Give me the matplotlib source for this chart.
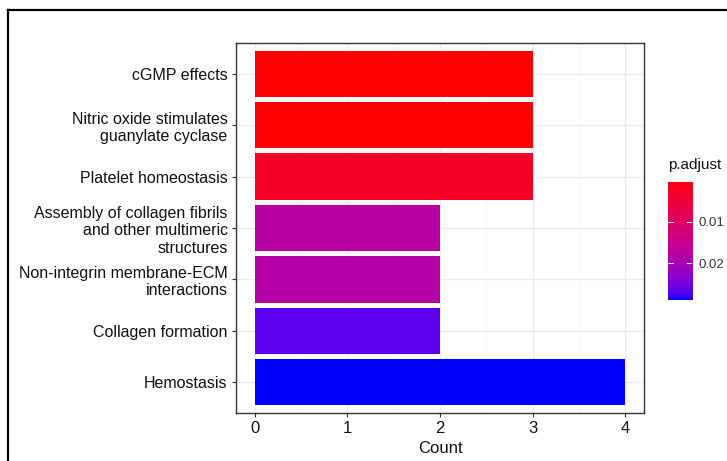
import numpy as np
import matplotlib
matplotlib.use("Agg")
import matplotlib.pyplot as plt
from matplotlib.colors import ListedColormap, to_rgb
from matplotlib.lines import Line2D

plt.rcParams['font.family'] = ['Liberation Sans', 'DejaVu Sans']

pathways = ['cGMP effects',
            'Nitric oxide stimulates\nguanylate cyclase',
            'Platelet homeostasis',
            'Assembly of collagen fibrils\nand other multimeric\nstructures',
            'Non-integrin membrane-ECM\ninteractions',
            'Collagen formation',
            'Hemostasis']
counts = [3, 3, 3, 2, 2, 2, 4]
p_adjust = [0.00040, 0.00045, 0.0030, 0.0180, 0.0182, 0.0265, 0.0288]
x_ticks = [0, 1, 2, 3, 4]
cbar_ticks = [0.01, 0.02]


# ggplot style red -> blue gradient, interpolated in Lab space
M = np.array([[0.4124, 0.3576, 0.1805],
              [0.2126, 0.7152, 0.0722],
              [0.0193, 0.1192, 0.9505]])
white = M.sum(axis=1)

def to_lab(rgb):
    c = np.array(rgb)
    c = np.where(c <= 0.04045, c / 12.92, ((c + 0.055) / 1.055) ** 2.4)
    xyz = M @ c / white
    f = np.where(xyz > 0.008856, np.cbrt(xyz), 7.787 * xyz + 16 / 116)
    return np.array([116 * f[1] - 16, 500 * (f[0] - f[1]), 200 * (f[1] - f[2])])

def from_lab(lab):
    fy = (lab[0] + 16) / 116
    f = np.array([fy + lab[1] / 500, fy, fy - lab[2] / 200])
    xyz = np.where(f ** 3 > 0.008856, f ** 3, (f - 16 / 116) / 7.787) * white
    c = np.linalg.solve(M, xyz)
    c = np.where(c <= 0.0031308, 12.92 * c, 1.055 * np.clip(c, 0, None) ** (1 / 2.4) - 0.055)
    return np.clip(c, 0, 1)

lab_lo, lab_hi = to_lab(to_rgb('red')), to_lab(to_rgb('blue'))
cmap = ListedColormap([from_lab(lab_lo + t * (lab_hi - lab_lo)) for t in np.linspace(0, 1, 256)])
vmin, vmax = min(p_adjust), max(p_adjust)
norm = plt.Normalize(vmin, vmax)

fig = plt.figure(figsize=(7.27, 4.61), dpi=100)
ax = fig.add_axes([236 / 727, 1 - 413 / 461, 408 / 727, 370 / 461])

ypos = np.arange(len(pathways))[::-1] + 1
ax.barh(ypos, counts, height=0.9, color=cmap(norm(p_adjust)), zorder=3)

ax.set_xlim(-0.2, 4.2)
ax.set_ylim(0.4, len(pathways) + 0.6)
ax.set_xticks(x_ticks)
ax.set_xticks(np.arange(0.5, 4, 1), minor=True)
ax.set_yticks(ypos)
ax.set_yticklabels(pathways, fontsize=11.5, color='#111111', linespacing=1.2)
ax.tick_params(axis='x', labelsize=12, labelcolor='#111111')
ax.tick_params(which='major', length=3, width=0.8, color='#333333', pad=3)
ax.tick_params(which='minor', length=0)
ax.grid(which='major', color='#ebebeb', lw=0.9, zorder=0)
ax.grid(which='minor', axis='x', color='#f5f5f5', lw=0.6, zorder=0)
for s in ax.spines.values():
    s.set_color('#333333')
    s.set_linewidth(1.0)
ax.set_xlabel('Count', fontsize=12, color='#111111', labelpad=3)

# colour bar legend
cax = fig.add_axes([668 / 727, 1 - 300 / 461, 24 / 727, 118 / 461])
grad = np.linspace(vmin, vmax, 200).reshape(-1, 1)
cax.imshow(grad, cmap=cmap, norm=norm, aspect='auto', origin='upper',
           extent=[0, 1, vmax, vmin])
cax.set_xlim(0, 1)
cax.set_ylim(vmax, vmin)
for t in cbar_ticks:
    cax.plot([0, 0.2], [t, t], color='white', lw=0.8)
    cax.plot([0.8, 1], [t, t], color='white', lw=0.8)
cax.set_xticks([])
cax.yaxis.tick_right()
cax.set_yticks(cbar_ticks)
cax.set_yticklabels(['0.01', '0.02'])
cax.tick_params(axis='y', length=0, labelsize=9.5, labelcolor='#333333', pad=5)
for s in cax.spines.values():
    s.set_visible(False)
fig.text(668 / 727, 1 - 165 / 461, 'p.adjust', fontsize=11, color='#111111', va='center')

# outer black frame
fig.add_artist(Line2D([8 / 727, 1], [1 - 10 / 461] * 2, color='black', lw=1.6))
fig.add_artist(Line2D([8 / 727] * 2, [0, 1 - 10 / 461], color='black', lw=1.6))

fig.savefig('out.png', dpi=100)
